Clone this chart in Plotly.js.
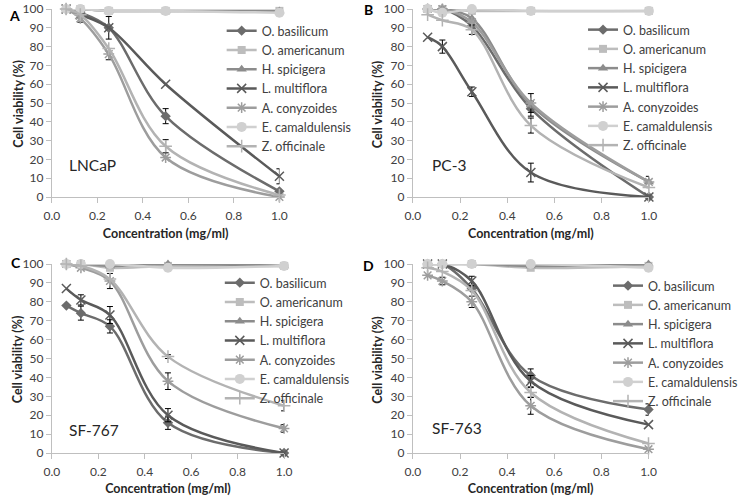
<!DOCTYPE html>
<html>
<head>
<meta charset="utf-8">
<script src="https://cdn.plot.ly/plotly-3.0.1.min.js"></script>
<style>html,body{margin:0;padding:0;background:#fff;}#chart{width:743px;height:496px;}</style>
</head>
<body>
<div id="chart"></div>
<script>
// ---- data ----
const concentration = [0.0625, 0.125, 0.25, 0.5, 1.0];
const seriesNames = ["O. basilicum", "O. americanum", "H. spicigera", "L. multiflora", "A. conyzoides", "E. camaldulensis", "Z. officinale"];
const xTickVals = [0, 0.2, 0.4, 0.6, 0.8, 1.0];
const xTickText = ["0.0", "0.2", "0.4", "0.6", "0.8", "1.0"];
const panelLetters = ["A", "B", "C", "D"];
const cellLines = ["LNCaP", "PC-3", "SF-767", "SF-763"];
const xTitle = "Concentration (mg/ml)";
const yTitle = "Cell viability (%)";

// Panel A: LNCaP (one row per series, order as seriesNames)
const lncapValues = [
  [100, 98, 90, 43, 3],
  [100, 100, 99, 99, 99],
  [100, 100, 99, 99, 99],
  [100, 97, 90, 60, 11],
  [100, 95, 76, 21, 0],
  [100, 100, 99, 99, 98],
  [100, 97, 79, 27, 1]
];
const lncapErrors = [
  [null, null, 6, 4, null],
  [null, null, null, null, null],
  [null, null, null, null, null],
  [null, null, null, null, 4],
  [null, 2, 3, null, null],
  [null, null, null, null, null],
  [null, null, null, 3.5, null]
];
// Panel B: PC-3
const pc3Values = [
  [100, 100, 91, 47, 0],
  [100, 100, 99, 99, 99],
  [100, 100, 95, 49, 8],
  [85, 80, 56, 13, 0],
  [100, 100, 93, 50, 8],
  [100, 98, 100, 99, 99],
  [97, 94, 89, 38, 5]
];
const pc3Errors = [
  [null, null, null, 4, null],
  [null, null, null, null, null],
  [null, null, null, null, null],
  [null, 3.5, 2.5, 5, null],
  [null, null, null, 5, 3],
  [null, null, null, null, null],
  [null, null, 2.5, 4, null]
];
// Panel C: SF-767
const sf767Values = [
  [78, 74, 67, 16, 0],
  [100, 100, 98, 99, 99],
  [100, 100, 99, 100, 99],
  [87, 81, 73, 20, 0],
  [100, 98, 91, 38, 13],
  [100, 100, 100, 98, 99],
  [100, 99, 92, 51, 25]
];
const sf767Errors = [
  [null, 3.7, 3.5, 3.5, null],
  [null, null, null, null, null],
  [null, null, null, null, null],
  [null, 2.7, 4.5, 3.5, null],
  [null, null, 4, 4.4, 2],
  [null, null, null, null, null],
  [null, null, null, 1, 2.7]
];
// Panel D: SF-763
const sf763Values = [
  [100, 100, 87, 41, 23],
  [100, 100, 100, 98, 99],
  [100, 100, 100, 99, 100],
  [100, 100, 91, 38, 15],
  [94, 91, 80, 25, 2],
  [100, 100, 100, 100, 98],
  [98, 96, 86, 32, 5]
];
const sf763Errors = [
  [null, null, null, 3.5, 3],
  [null, null, null, null, null],
  [null, null, null, null, null],
  [null, null, 2.5, 3, null],
  [null, 2, 3, 4.5, null],
  [null, null, null, null, null],
  [null, null, null, 2.6, null]
];

// ---- styles ----
const colors = ["#6c6c6c", "#bdbdbd", "#8c8c8c", "#5a5a5a", "#9d9d9d", "#d0d0d0", "#b3b3b3"];
const symbols = ["diamond", "square", "triangle-up", "x-thin-open", "asterisk-open", "circle", "cross-thin-open"];
const sizes = [8, 8, 9, 9, 9, 10, 9];
const FONT = "Lato, 'Open Sans', sans-serif";

const W = 743, H = 496;
const panels = [
  {vals: lncapValues, errs: lncapErrors, xa: "x",  ya: "y",  lg: "legend",  xd: [55.7, 300], yd: [9, 197]},
  {vals: pc3Values,   errs: pc3Errors,   xa: "x2", ya: "y2", lg: "legend2", xd: [443.3, 696.7], yd: [9, 197]},
  {vals: sf767Values, errs: sf767Errors, xa: "x3", ya: "y3", lg: "legend3", xd: [55.7, 305], yd: [264, 453]},
  {vals: sf763Values, errs: sf763Errors, xa: "x4", ya: "y4", lg: "legend4", xd: [443.3, 696.3], yd: [264, 453]}
];

const traces = [];
panels.forEach((p) => {
  seriesNames.forEach((nm, i) => {
    const open = symbols[i].indexOf("open") >= 0;
    traces.push({
      type: "scatter", mode: "lines+markers",
      x: concentration, y: p.vals[i], name: nm,
      xaxis: p.xa, yaxis: p.ya, legend: p.lg,
      cliponaxis: false,
      line: {color: colors[i], width: 2.5, shape: "spline", smoothing: 1},
      marker: {symbol: symbols[i], size: sizes[i], color: colors[i],
               line: {color: colors[i], width: open ? 1.5 : 0}},
      error_y: {type: "data", visible: true, symmetric: true,
                array: p.errs[i].map(v => v === null ? NaN : v),
                color: "#000", thickness: 1, width: 3}
    });
  });
});

const layout = {
  width: W, height: H,
  margin: {l: 0, r: 0, t: 0, b: 0},
  paper_bgcolor: "#fff", plot_bgcolor: "rgba(0,0,0,0)",
  font: {family: FONT, color: "#404040", size: 12},
  annotations: [],
  showlegend: true
};

const axisCommon = {
  showline: true, linecolor: "#bfbfbf", linewidth: 1,
  ticks: "outside", ticklen: 5, tickcolor: "#bfbfbf", tickwidth: 1,
  showgrid: false, zeroline: false, fixedrange: true,
  tickfont: {family: FONT, size: 12, color: "#404040"}
};
const titleFont = {family: FONT, size: 12.5, color: "#262626", weight: "bold"};

const legendPos = [[238, 16], [626, 15], [236, 268], [653, 271]];
const letterPos = [[16, 15], [396, 10], [17, 262], [396, 265]];
const cellPos = [[72, 165], [462, 165], [72, 430], [462, 428]];
const yTitleX = [19, 405, 19, 405];

panels.forEach((p, k) => {
  const sfx = k === 0 ? "" : String(k + 1);
  layout["xaxis" + sfx] = Object.assign({}, axisCommon, {
    domain: [p.xd[0] / W, p.xd[1] / W],
    anchor: "y" + sfx,
    range: [0, 1.0],
    tickvals: xTickVals, ticktext: xTickText,
    ticklabelstandoff: 3,
    title: {text: xTitle, font: titleFont, standoff: 6}
  });
  layout["yaxis" + sfx] = Object.assign({}, axisCommon, {
    domain: [1 - p.yd[1] / H, 1 - p.yd[0] / H],
    anchor: "x" + sfx,
    range: [0, 100], dtick: 10
  });
  layout[p.lg] = {
    x: legendPos[k][0] / W, y: 1 - legendPos[k][1] / H,
    xanchor: "left", yanchor: "top",
    bgcolor: "rgba(0,0,0,0)", borderwidth: 0,
    font: {family: FONT, size: 12.5, color: "#404040"},
    tracegroupgap: 0
  };
  layout.annotations.push({
    xref: "paper", yref: "paper", x: yTitleX[k] / W, y: 1 - ((p.yd[0] + p.yd[1]) / 2 + 1) / H,
    xanchor: "center", yanchor: "middle", showarrow: false, textangle: -90,
    text: yTitle, font: titleFont
  });
  layout.annotations.push({
    xref: "paper", yref: "paper", x: letterPos[k][0] / W, y: 1 - letterPos[k][1] / H,
    xanchor: "center", yanchor: "middle", showarrow: false,
    text: "<b>" + panelLetters[k] + "</b>", font: {family: FONT, size: 14, color: "#000"}
  });
  layout.annotations.push({
    xref: "paper", yref: "paper", x: cellPos[k][0] / W, y: 1 - cellPos[k][1] / H,
    xanchor: "left", yanchor: "middle", showarrow: false,
    text: cellLines[k], font: {family: FONT, size: 15.5, color: "#262626"}
  });
});

Plotly.newPlot("chart", traces, layout, {displayModeBar: false, staticPlot: true});
</script>
</body>
</html>
